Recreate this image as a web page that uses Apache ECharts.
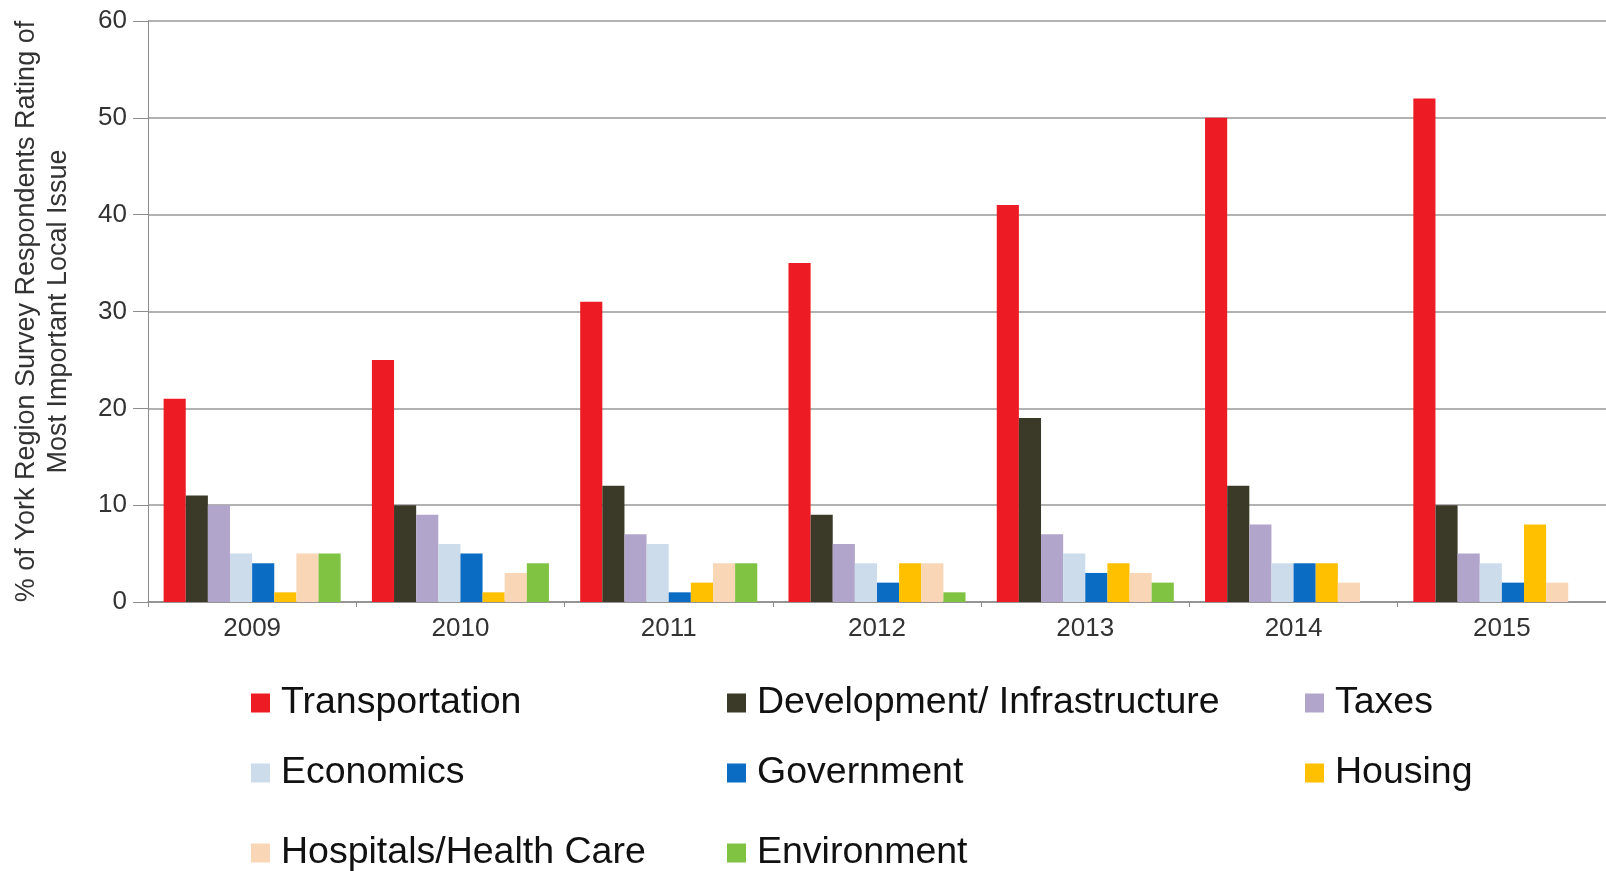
<!DOCTYPE html>
<html>
<head>
<meta charset="utf-8">
<script src="https://cdn.jsdelivr.net/npm/echarts@6/dist/echarts.min.js"></script>
<style>html,body{margin:0;padding:0;background:#fff;}#c{width:1606px;height:871px;}</style>
</head>
<body>
<div id="c"></div>
<script>
const years = ['2009','2010','2011','2012','2013','2014','2015'];
const seriesNames = ['Transportation','Development/ Infrastructure','Taxes','Economics','Government','Housing','Hospitals/Health Care','Environment'];
const transportation = [21, 25, 31, 35, 41, 50, 52];
const development    = [11, 10, 12, 9, 19, 12, 10];
const taxes          = [10, 9, 7, 6, 7, 8, 5];
const economics      = [5, 6, 6, 4, 5, 4, 4];
const government     = [4, 5, 1, 2, 3, 4, 2];
const housing        = [1, 1, 2, 4, 4, 4, 8];
const hospitals      = [5, 3, 4, 4, 3, 2, 2];
const environment    = [5, 4, 4, 1, 2, 0, 0];
const yTicks = [0, 10, 20, 30, 40, 50, 60];

const values = [transportation, development, taxes, economics, government, housing, hospitals, environment];
const colors = ['#ED1C24','#3B3A29','#B2A5CC','#CCDCEA','#0B6CC4','#FFC000','#F8D6B6','#80C342'];

const colX = [246, 722, 1300];
const rowTop = [678, 748, 828];

const chart = echarts.init(document.getElementById('c'));
const legends = seriesNames.map((n, i) => ({
  data: [n],
  left: colX[i % 3],
  top: rowTop[Math.floor(i / 3)],
  icon: 'rect',
  itemWidth: 19,
  itemHeight: 19,
  selectedMode: false,
  textStyle: { fontFamily: 'Liberation Sans', fontSize: 37.5, color: '#111', padding: [0, 0, 0, 6], lineHeight: 40 }
}));

chart.setOption({
  animation: false,
  backgroundColor: '#fff',
  color: colors,
  legend: legends,
  grid: { left: 148, right: -3, top: 21, bottom: 269, containLabel: false },
  xAxis: {
    type: 'category',
    data: years,
    axisLine: { lineStyle: { color: '#8c8c8c', width: 1.5 } },
    axisTick: { show: true, length: 5, lineStyle: { color: '#8c8c8c' } },
    axisLabel: { fontFamily: 'Liberation Sans', fontSize: 26, color: '#333', margin: 14 }
  },
  yAxis: {
    type: 'value',
    min: 0, max: 60, interval: 10,
    name: '% of York Region Survey Respondents Rating of\nMost Important Local Issue',
    nameLocation: 'middle',
    nameGap: 73,
    nameTextStyle: { fontFamily: 'Liberation Sans', fontSize: 27, color: '#333', lineHeight: 32 },
    axisLine: { show: true, lineStyle: { color: '#8c8c8c', width: 1 } },
    axisTick: { show: true, length: 15, lineStyle: { color: '#8c8c8c' } },
    axisLabel: { fontFamily: 'Liberation Sans', fontSize: 26, color: '#333', margin: 21,
      formatter: v => yTicks.includes(v) ? String(v) : '' },
    splitLine: { lineStyle: { color: '#999', width: 1.5 } }
  },
  series: seriesNames.map((n, i) => ({
    name: n,
    type: 'bar',
    data: values[i],
    barGap: '0%',
    barCategoryGap: '15%',
    itemStyle: { color: colors[i] }
  }))
});
</script>
</body>
</html>
